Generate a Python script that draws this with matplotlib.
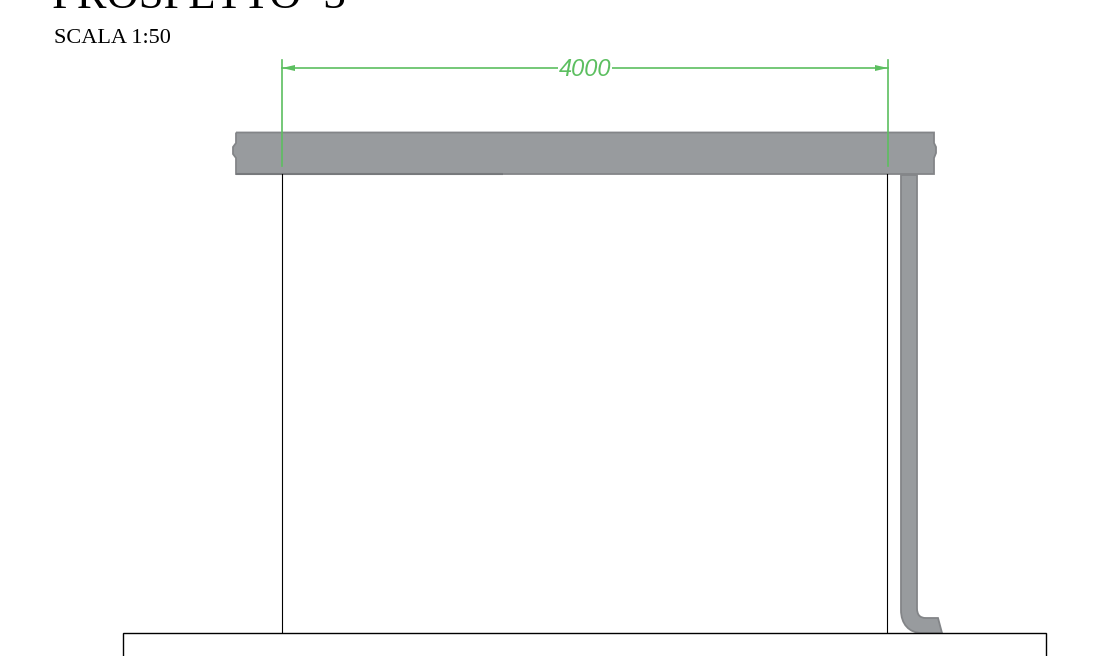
import numpy as np
import matplotlib
matplotlib.use('Agg')
import matplotlib.pyplot as plt
from matplotlib.path import Path
from matplotlib.patches import PathPatch, Polygon, Rectangle

# everything is in reference pixels, y pointing down
title = 'PROSPETTO  3'
scale_label = 'SCALA 1:50'
dim_label = '4000'

beam_x = [236, 934]
beam_y = [132.5, 174]
column_x = [282, 887]
column_y = [174, 633]
dim_x = [282, 888]
dim_y = 68
ext_y = [60, 166]
base_x = [123, 1046]
base_top = 633

grey = '#989b9e'
edge = '#838588'
green = '#5cbf60'

fig = plt.figure(figsize=(11.02, 6.56), dpi=100)
ax = fig.add_axes([0, 0, 1, 1])
ax.set_xlim(0, 1102)
ax.set_ylim(656, 0)
ax.axis('off')

# beam with the small break notches on both ends
x0, x1 = beam_x
y0, y1 = beam_y
beam = Path([(x0, y0), (x1, y0), (x1, 143), (x1 + 2, 147), (x1 + 2, 153), (x1, 158),
             (x1, y1), (x0, y1), (x0, 158), (x0 - 3, 154), (x0 - 3, 147), (x0, 143), (x0, y0)])
ax.add_patch(PathPatch(beam, fc=grey, ec=edge, lw=1.3, zorder=2))
# the underside reads darker on the left part
ax.plot([x0, 503], [y1, y1], color='#77797c', lw=1.5, zorder=2, solid_capstyle='butt')

# downpipe with the bent foot
codes = [Path.MOVETO, Path.LINETO, Path.CURVE4, Path.CURVE4, Path.CURVE4, Path.LINETO, Path.LINETO,
         Path.LINETO, Path.CURVE4, Path.CURVE4, Path.CURVE4, Path.LINETO, Path.CLOSEPOLY]
verts = [(901, 175), (901, 610), (901, 624), (909, 633), (922, 633), (942, 633), (938, 618),
         (926, 618), (920, 618), (917, 615), (917, 608), (917, 175), (901, 175)]
ax.add_patch(PathPatch(Path(verts, codes), fc=grey, ec=edge, lw=1.3, zorder=2))

# black columns and base
for x in column_x:
    ax.plot([x, x], column_y, color='black', lw=0.8, zorder=3)
ax.add_patch(Rectangle((base_x[0], base_top), base_x[1] - base_x[0], 60, fc='white', ec='black', lw=1.0, zorder=4))

# green dimension
for x in dim_x:
    ax.plot([x, x], ext_y, color=green, lw=1.2, zorder=5)
ax.plot(dim_x, [dim_y, dim_y], color=green, lw=1.2, zorder=5)
ax.add_patch(Polygon([(dim_x[0], dim_y), (dim_x[0] + 13, dim_y - 3), (dim_x[0] + 13, dim_y + 3)], fc=green, ec='none', zorder=6))
ax.add_patch(Polygon([(dim_x[1], dim_y), (dim_x[1] - 13, dim_y - 3), (dim_x[1] - 13, dim_y + 3)], fc=green, ec='none', zorder=6))
ax.text(585, dim_y + 2, dim_label, color=green, fontsize=17, style='italic', family='Liberation Sans',
        ha='center', va='center', zorder=7,
        bbox=dict(fc='white', ec='none', pad=0.5))

# titles, the big one runs off the top edge
ax.text(52, 8, title, family='Liberation Serif', fontsize=32, color='black', ha='left', va='baseline')
ax.text(54, 43, scale_label, family='Liberation Serif', fontsize=16, color='black', ha='left', va='baseline')

fig.savefig('out.png', dpi=100)
